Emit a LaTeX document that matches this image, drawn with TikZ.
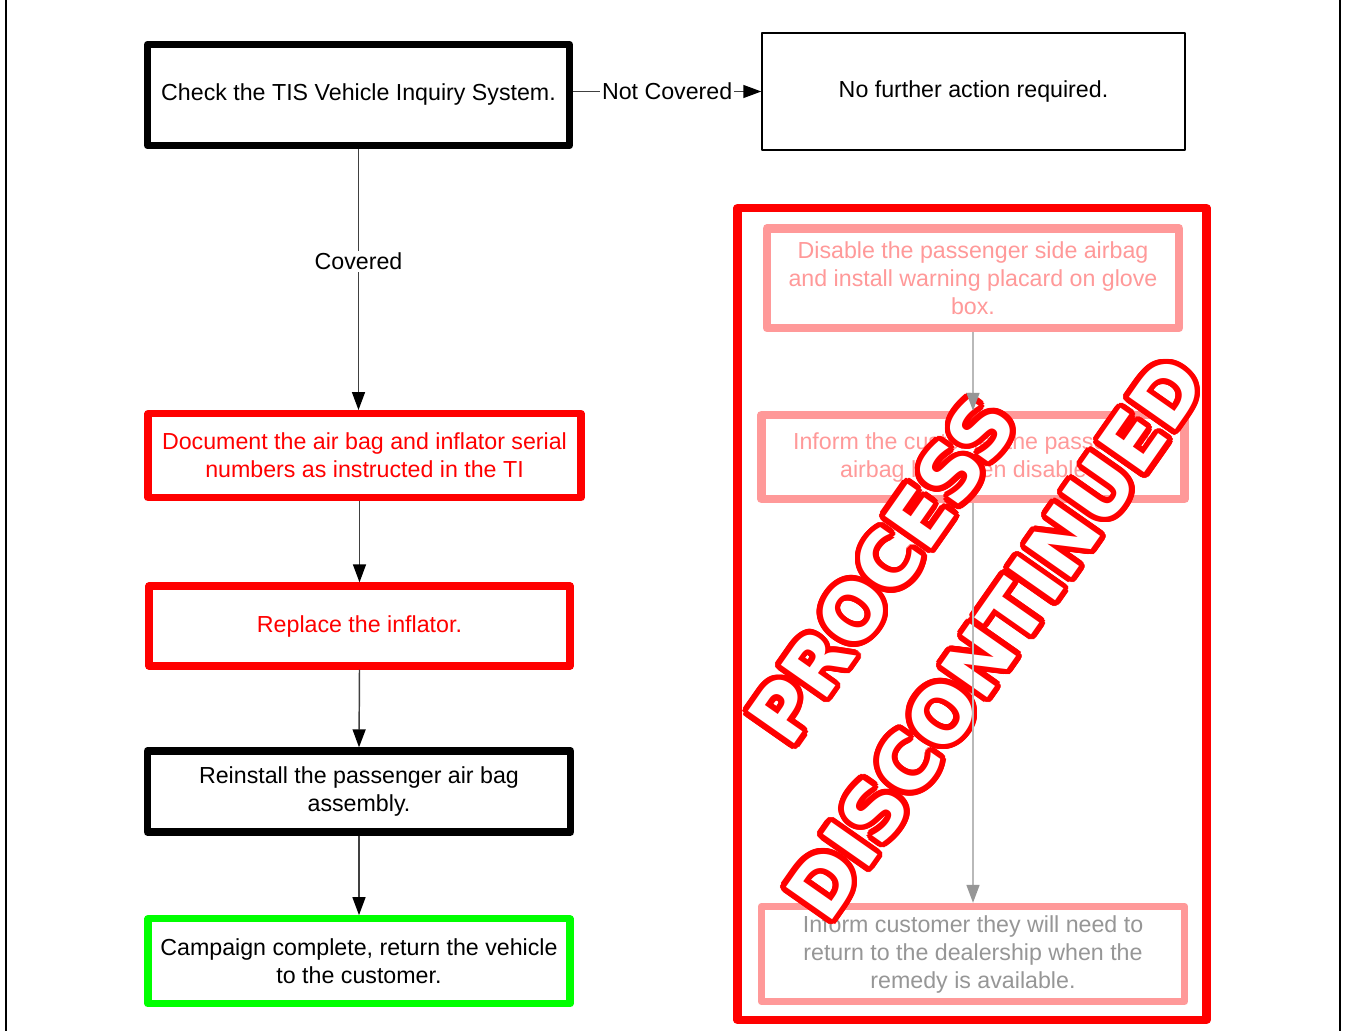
\documentclass[tikz,border=0pt]{standalone}
\usepackage{fontspec}
\setmainfont{Liberation Sans}
\newfontfamily\stampfont{DejaVu Sans}
\usetikzlibrary{arrows.meta}
\definecolor{pinkc}{RGB}{255,153,153}
\definecolor{graytxt}{RGB}{150,150,150}
\definecolor{grayline}{RGB}{185,185,185}
\definecolor{grayhead}{RGB}{150,150,150}
\definecolor{greenc}{RGB}{0,255,0}
\definecolor{redc}{RGB}{255,0,0}
\begin{document}
\begin{tikzpicture}[x=0.75pt,y=-0.75pt,
  every node/.style={font=\fontsize{17.4}{21}\selectfont, align=center},
  box/.style={draw, rectangle, line join=round, inner sep=0pt},
  thickbox/.style={box, line width=5.5pt},
  redbox/.style={thickbox, draw=redc, text=redc},
  pinkbox/.style={box, draw=pinkc, line width=6.5pt, text=pinkc},
  conn/.style={draw=black!75, line width=1.1pt, -{Triangle[width=9.75pt,length=13.5pt,color=black]}},
  gconn/.style={draw=grayline, line width=1.1pt, -{Triangle[width=9.75pt,length=13.5pt,color=grayhead]}},
  stamptxt/.style={font=\stampfont\bfseries\fontsize{58}{62}\selectfont, rotate=55, inner sep=0pt},
  lbl/.style={fill=white, inner sep=1.5pt}
]
\useasboundingbox (0,0) rectangle (1346,1031);
\fill[white] (0,0) rectangle (1346,1031);
\draw[line width=1.5pt] (6,0) -- (6,1031);
\draw[line width=1.5pt] (1340,0) -- (1340,1031);

% left column
\node[thickbox, line width=5.25pt, minimum width=316.5pt, minimum height=76pt] (b1) at (358.5,95) {Check the TIS Vehicle Inquiry System.};
\node[box, line width=1.1pt, minimum width=317.25pt, minimum height=87.75pt] (nf) at (973.5,91.5) {No further action required.};
\node[redbox, minimum width=324.75pt, minimum height=63pt] (doc) at (364.5,455.7) {Document the air bag and inflator serial\\numbers as instructed in the TI};
\node[redbox, minimum width=315.75pt, minimum height=60pt] (rep) at (359.5,626) {Replace the inflator.};
\node[thickbox, minimum width=317.25pt, minimum height=60.75pt] (rein) at (359,791.5) {Reinstall the passenger air bag\\assembly.};
\node[thickbox, draw=greenc, minimum width=316.5pt, minimum height=63.75pt] (camp) at (359,961.3) {Campaign complete, return the vehicle\\to the customer.};

\draw[conn] (b1.east |- nf.west) -- node[lbl] (ncl) {Not Covered} (nf.west);
\draw[conn] (b1.south) -- node[lbl, pos=0.43] (cl) {Covered} (b1.south |- doc.north);
\draw[conn] (rep.north |- doc.south) -- (rep.north);
\draw[conn] (rep.south) -- (rein.north);
\draw[conn] (rein.south) -- (camp.north);

% right column
\node[box, draw=redc, line width=6.25pt, minimum width=351.75pt, minimum height=609pt] (big) at (972,614) {};
\node[pinkbox, minimum width=309pt, minimum height=74.8pt] (p1) at (973,278.2) {Disable the passenger side airbag\\and install warning placard on glove\\box.};
\node[pinkbox, minimum width=317.5pt, minimum height=62.8pt] (p2) at (973,457) {Inform the customer the passenger\\airbag has been disabled.};
\node[pinkbox, line width=5.5pt, text=graytxt, minimum width=317.25pt, minimum height=71.25pt] (p3) at (973,954) {Inform customer they will need to\\return to the dealership when the\\remedy is available.};

% stamp
\foreach \a in {0,12,...,348} {
  \node[stamptxt, text=redc] (sp\a) at ([shift={(\a:4.2pt)}]882,570) {PROCESS};
  \node[stamptxt, text=redc] (sd\a) at ([shift={(\a:4.2pt)}]995,638) {DISCONTINUED};
}
\node[stamptxt, text=white] (stampP) at (882,570) {PROCESS};
\node[stamptxt, text=white] (stampD) at (995,638) {DISCONTINUED};

\draw[gconn] (p1.south) -- (p2.north);
\draw[gconn] (p2.south) -- (p3.north);
\end{tikzpicture}
\end{document}
